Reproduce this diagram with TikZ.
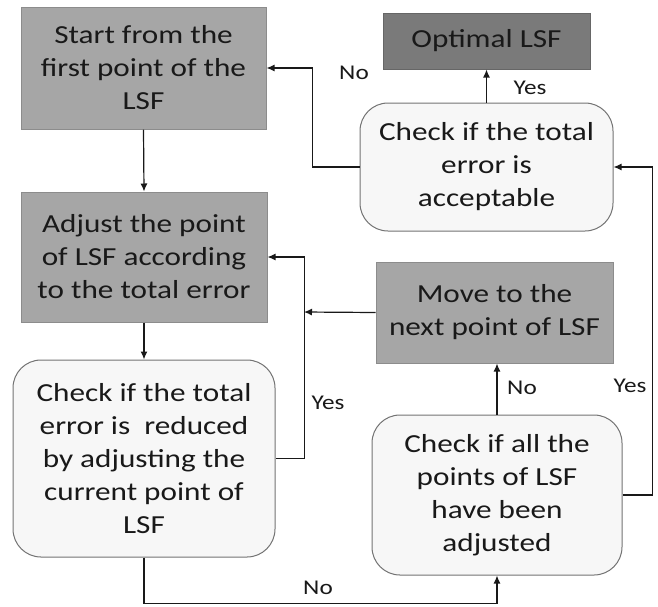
\documentclass[tikz,border=0pt]{standalone}
\usepackage{fontspec}
\setmainfont{Carlito}[FakeStretch=1.2]
\usetikzlibrary{arrows.meta}

\begin{document}
\begin{tikzpicture}[x=1pt, y=-1pt,
box/.style={rectangle, align=center, inner sep=0pt, draw=black!45, fill=black!35, line width=1pt, text=black!90, font=\fontsize{26}{33}\selectfont},
dark/.style={box, fill=black!52, draw=black!60},
check/.style={box, rounded corners=28pt, fill=black!3, draw=black!55},
link/.style={line width=1.2pt, draw=black!90, -{Latex[length=8pt,width=7pt]}},
answer/.style={text=black!90, font=\fontsize{21}{24}\selectfont},
]

\useasboundingbox (0,0) rectangle (658,606);

\node (start) [box, minimum width=245pt, minimum height=122pt] at (143.5,68) {Start from the\\first point of the\\LSF};
\node (adjust) [box, minimum width=246pt, minimum height=130pt] at (144,257) {Adjust the point\\of LSF according\\to the total error};
\node (reduced) [check, minimum width=262pt, minimum height=197pt] at (144,458.5) {Check if the total\\error is\ \ reduced\\by adjusting the\\current point of\\LSF};
\node (optimal) [dark, minimum width=207pt, minimum height=56pt] at (486.5,41) {Optimal LSF};
\node (total) [check, minimum width=253pt, minimum height=128pt] at (486.5,167) {Check if the total\\error is\\acceptable};
\node (move) [box, minimum width=237pt, minimum height=101pt] at (494.5,312.5) {Move to the\\next point of LSF};
\node (adjusted) [check, minimum width=250pt, minimum height=160pt] at (497,495) {Check if all the\\points of LSF\\have been\\adjusted};
\coordinate (join) at (304,312);

\draw[link] (start.south) -- (adjust.north);
\draw[link] (adjust.south) -- (reduced.north);
\draw[link] (reduced.east) -- ++(29,0) |- (adjust.east);
\draw[link] (move.west) -- (join);
\draw[link] (reduced.south) -- ++(0,46) -| (adjusted.south);
\draw[link] (adjusted.north) -- (adjusted.north |- move.south);
\draw[link] (adjusted.east) -- ++(30,0) |- (total.east);
\draw[link] (total.north) -- (optimal.south);
\draw[link] (total.west) -- ++(-47,0) |- (start.east);

\node (no1) [answer] at (354,73) {No};
\node (yes1) [answer] at (530,88) {Yes};
\node (yes2) [answer] at (328,403) {Yes};
\node (no2) [answer] at (522,388) {No};
\node (yes3) [answer] at (630,386) {Yes};
\node (no3) [answer] at (318,588) {No};

\end{tikzpicture}
\end{document}
